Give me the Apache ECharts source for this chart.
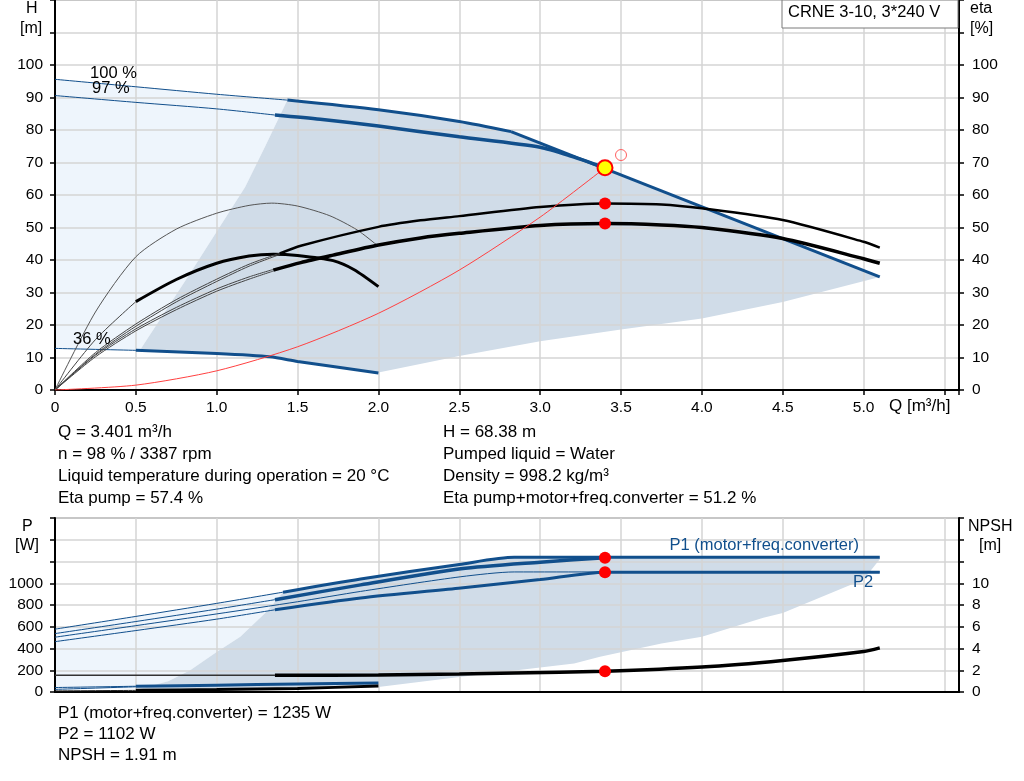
<!DOCTYPE html>
<html>
<head>
<meta charset="utf-8">
<script src="https://cdn.jsdelivr.net/npm/echarts@6/dist/echarts.min.js"></script>
<style>
html, body { margin: 0; padding: 0; background: #fff; }
#chart { width: 1024px; height: 781px; }
</style>
</head>
<body>
<div id="chart"></div>
<script>
// ---- tick labels ----
var qTickLabels = ['0', '0.5', '1.0', '1.5', '2.0', '2.5', '3.0', '3.5', '4.0', '4.5', '5.0'];
var hTickLabels = ['0', '10', '20', '30', '40', '50', '60', '70', '80', '90', '100'];
var pTickLabels = ['0', '200', '400', '600', '800', '1000'];
var npshTickLabels = ['0', '2', '4', '6', '8', '10'];

// ---- top chart: head curves [Q, H] ----
var h100Thin = [[0, 95.6], [0.5, 93.3], [1.0, 91.0], [1.437, 89.2]];
var h100Thick = [[1.437, 89.2], [2.0, 86.2], [2.5, 82.6], [2.82, 79.5]];
var hMaxLine = [[2.82, 79.5], [5.1, 34.8]];
var h97Thin = [[0, 90.6], [0.5, 88.5], [1.0, 86.5], [1.36, 84.6]];
var h97Thick = [[1.36, 84.6], [1.64, 83.3], [2.0, 81.2], [2.5, 77.9], [3.0, 74.7], [3.2, 71.8], [3.401, 68.38]];
var h36Thin = [[0, 12.8], [0.5, 12.2]];
var h36Thick = [[0.5, 12.2], [1.0, 11.2], [1.33, 10.2], [1.5, 8.8], [2.0, 5.2]];
var systemCurve = [[0, 0], [0.5, 1.5], [1.0, 5.9], [1.5, 13.3], [2.0, 23.6], [2.5, 36.9], [3.0, 53.2], [3.401, 68.38]];

// ---- top chart: efficiency curves [Q, eta] ----
var etaPumpThinA = [[0, 0], [0.25, 11.5], [0.5, 20.3], [0.75, 27.8], [1.0, 34.1], [1.2, 38.7], [1.39, 42.1]];
var etaPumpThinB = [[0, 0], [0.25, 11.0], [0.5, 19.6], [0.75, 27.1], [1.0, 33.4], [1.2, 38.1], [1.39, 41.7]];
var etaPumpThick = [[1.39, 42.0], [1.52, 44.4], [2.0, 50.2], [2.26, 52.2], [2.5, 53.5], [3.0, 56.3], [3.401, 57.4], [3.75, 57.1], [4.0, 55.9], [4.5, 52.3], [5.0, 45.6], [5.1, 43.8]];
var etaTotalThinA = [[0, 0], [0.25, 10.7], [0.5, 18.8], [0.75, 25.4], [1.0, 31.1], [1.2, 34.8], [1.35, 37.1]];
var etaTotalThinB = [[0, 0], [0.25, 10.2], [0.5, 18.2], [0.75, 24.7], [1.0, 30.4], [1.2, 34.1], [1.35, 36.6]];
var etaTotalThick = [[1.35, 36.9], [1.52, 39.2], [1.72, 41.5], [2.0, 44.6], [2.26, 46.8], [2.5, 48.2], [3.0, 50.6], [3.401, 51.2], [3.75, 50.8], [4.0, 50.0], [4.5, 46.6], [5.0, 40.4], [5.1, 39.0]];
var etaLowArc = [[0, 0], [0.25, 24], [0.5, 41], [0.75, 49.5], [1.0, 54.4], [1.2, 56.8], [1.34, 57.5], [1.5, 56.6], [1.7, 53.6], [1.87, 49.2], [1.99, 44.6]];
var etaMinThin = [[0, 0], [0.25, 15.5], [0.5, 27.2]];
var etaMinThick = [[0.5, 27.2], [0.75, 34], [1.0, 39], [1.2, 41.2], [1.35, 41.8], [1.5, 41.4], [1.72, 39.8], [1.85, 37], [2.0, 31.8]];

// ---- top chart: areas [Q, H] ----
var topLightArea = [[0, 95.6], [0.5, 93.3], [1.0, 91.0], [1.437, 89.2], [1.3, 75], [1.176, 62.5], [0.84, 36.2], [0.526, 12.3], [0.5, 12.2], [0, 12.8]];
var topDarkArea = [[0.526, 12.3], [0.84, 36.2], [1.176, 62.5], [1.3, 75], [1.437, 89.2], [2.0, 86.2], [2.5, 82.6], [2.82, 79.5], [5.1, 34.8],
    [4.5, 27.1], [4.0, 22.0], [3.5, 18.6], [3.0, 15.0], [2.5, 10.5], [2.0, 5.4], [1.5, 8.8], [1.33, 10.2], [1.0, 11.2], [0.526, 12.2]];

// ---- duty point ----
var dutyQ = 3.401;
var dutyH = 68.38;
var dutyEtaPump = 57.4;
var dutyEtaTotal = 51.2;
var dutyP1 = 1235;
var dutyP2 = 1102;
var dutyNpsh = 1.91;
var openPoint = [3.5, 72.3];

// ---- bottom chart: power curves [Q, P] ----
var p1MaxThin = [[0, 578], [0.5, 695], [1.0, 815], [1.41, 918]];
var p1MaxThick = [[1.41, 918], [1.89, 1040], [2.5, 1173], [2.84, 1238], [5.1, 1238]];
var p1DutyThin = [[0, 537], [0.5, 648], [1.0, 762], [1.36, 849]];
var p1DutyThick = [[1.36, 849], [1.89, 985], [2.51, 1133], [3.0, 1194], [3.401, 1235]];
var p2MaxThin = [[0, 504], [0.5, 610], [1.0, 718], [1.5, 830], [1.89, 925], [2.51, 1060], [2.84, 1104], [5.1, 1104]];
var p2DutyThin = [[0, 463], [0.5, 565], [1.0, 670], [1.36, 756]];
var p2DutyThick = [[1.36, 756], [1.89, 865], [2.51, 957], [3.0, 1034], [3.401, 1102], [5.1, 1102]];
var pMinThinA = [[0, 41], [0.5, 53]];
var pMinThinB = [[0, 24], [0.5, 48]];
var pMinThick = [[0.5, 53], [1.0, 63], [1.5, 73], [2.0, 83]];
var pMinBlackThin = [[0, 10], [0.5, 15]];
var pMinBlackThick = [[0.5, 15], [1.0, 22], [1.5, 33], [2.0, 55]];

// ---- bottom chart: NPSH [Q, m] ----
var npshThin = [[0, 1.53], [1.36, 1.53]];
var npshThick = [[1.36, 1.53], [2.0, 1.56], [2.5, 1.65], [2.84, 1.74], [3.401, 1.91], [4.0, 2.29], [4.5, 2.9], [5.0, 3.72], [5.1, 4.06]];

// ---- bottom chart: areas [Q, P] ----
var botLightArea = [[0, 578], [0.5, 695], [1.0, 815], [1.41, 918], [1.31, 741], [1.146, 509], [1.0, 368], [0.836, 201], [0.7, 100], [0.51, 22], [0.5, 30], [0, 30]];
var botDarkArea = [[0.51, 22], [0.7, 100], [0.836, 201], [1.0, 368], [1.146, 509], [1.31, 741], [1.41, 918], [1.89, 1040], [2.5, 1173], [2.84, 1238], [5.1, 1238],
    [5.1, 1220], [5.0, 1034], [4.5, 726], [4.38, 682], [4.0, 509], [3.75, 445], [3.37, 324], [3.21, 263], [3.0, 226], [2.5, 139], [2.0, 46], [1.5, 36], [1.0, 28], [0.51, 20]];

// ---- curve labels [Q, value, text] ----
var topCurveLabels = [[0.217, 97.5, '100 %'], [0.229, 92.9, '97 %'], [0.111, 15.7, '36 %']];
var botCurveLabels = [[3.8, 1349, 'P1 (motor+freq.converter)'], [4.935, 1006, 'P2']];

// ---- info texts ----
var infoLeft = ['Q = 3.401 m³/h', 'n = 98 % / 3387 rpm', 'Liquid temperature during operation = 20 °C', 'Eta pump = 57.4 %'];
var infoRight = ['H = 68.38 m', 'Pumped liquid = Water', 'Density = 998.2 kg/m³', 'Eta pump+motor+freq.converter = 51.2 %'];
var infoBottom = ['P1 (motor+freq.converter) = 1235 W', 'P2 = 1102 W', 'NPSH = 1.91 m'];
var modelName = 'CRNE 3-10, 3*240 V';

var FONT = '"Liberation Sans", Arial, sans-serif';
var BLUE = '#114f8c';
var GRIDLINE = '#d4d4d4';

function tickFormatter(labels, step) {
    return function (v) {
        var i = Math.round(v / step);
        if (Math.abs(i * step - v) > 1e-6) return '';
        return labels[i] || '';
    };
}

function lineSeries(data, xi, yi, color, width, z, smooth) {
    return {
        type: 'line', xAxisIndex: xi, yAxisIndex: yi, data: data,
        smooth: smooth === undefined ? 0.25 : smooth,
        showSymbol: false, symbol: 'none', silent: true, z: z || 3,
        lineStyle: {color: color, width: width}
    };
}

function areaSeries(points, xi, yi, color) {
    return {
        type: 'custom', xAxisIndex: xi, yAxisIndex: yi, silent: true, z: -1,
        data: [points[0]],
        renderItem: function (params, api) {
            var pts = points.map(function (p) { return api.coord(p); });
            return {type: 'polygon', shape: {points: pts}, style: {fill: color}};
        }
    };
}

function labelSeries(items, xi, yi, color) {
    return {
        type: 'custom', xAxisIndex: xi, yAxisIndex: yi, silent: true, z: 10,
        data: items.map(function (it) { return [it[0], it[1]]; }),
        renderItem: function (params, api) {
            var it = items[params.dataIndex];
            var p = api.coord([it[0], it[1]]);
            return {type: 'text', x: p[0], y: p[1],
                style: {text: it[2], fill: color, font: '16.5px ' + FONT, align: 'left', verticalAlign: 'middle'}};
        }
    };
}

function dotSeries(data, xi, yi, size, fill, border, bw) {
    return {
        type: 'scatter', xAxisIndex: xi, yAxisIndex: yi, data: data, silent: true, z: 8,
        symbol: 'circle', symbolSize: size,
        itemStyle: {color: fill, borderColor: border, borderWidth: bw, opacity: 1}
    };
}

function valueAxis(opt) {
    return {
        type: 'value', gridIndex: opt.grid, min: opt.min, max: opt.max, interval: opt.interval,
        position: opt.position,
        axisLine: {show: true, onZero: false, lineStyle: {color: '#000', width: 2}},
        axisTick: {show: opt.ticks !== false, length: 5, lineStyle: {color: '#000', width: 1.5}},
        axisLabel: {show: opt.labels !== false, margin: opt.margin || 12, fontSize: 15.5, color: '#000', fontFamily: FONT,
            formatter: opt.formatter, showMaxLabel: true, showMinLabel: true},
        splitLine: {show: !!opt.split, lineStyle: {color: GRIDLINE, width: 1.5}}
    };
}

function textItem(t, left, top, size) {
    return {type: 'text', left: left, top: top, style: {text: t, font: size + 'px ' + FONT, fill: '#000'}};
}

var chart = echarts.init(document.getElementById('chart'));

var graphics = [
    {type: 'rect', shape: {x: 782, y: 0, width: 176, height: 28}, style: {fill: '#fff', stroke: '#7a7a7a', lineWidth: 1}, z: 100},
    {type: 'text', left: 788, top: 4, style: {text: modelName, font: '16.5px ' + FONT, fill: '#000'}, z: 101},
    textItem('H', 26, 1, 16),
    textItem('[m]', 20, 21, 16),
    textItem('eta', 970, 1, 16),
    textItem('[%]', 970, 21, 16),
    textItem('Q [m³/h]', 889, 398, 17),
    textItem('P', 22, 519, 16),
    textItem('[W]', 15, 538, 16),
    textItem('NPSH', 968, 519, 16),
    textItem('[m]', 979, 538, 16)
];
infoLeft.forEach(function (t, i) {
    graphics.push(textItem(t, 58, 424 + i * 22, 17));
});
infoRight.forEach(function (t, i) {
    graphics.push(textItem(t, 443, 424 + i * 22, 17));
});
infoBottom.forEach(function (t, i) {
    graphics.push(textItem(t, 58, 705 + i * 21, 17));
});

var option = {
    animation: false,
    backgroundColor: '#fff',
    grid: [
        {left: 55, right: 65, top: 0, bottom: 391, show: true, borderColor: '#a0a0a0', borderWidth: 2, backgroundColor: 'transparent'},
        {left: 55, right: 65, top: 518, bottom: 89, show: true, borderColor: '#a0a0a0', borderWidth: 2, backgroundColor: 'transparent'}
    ],
    xAxis: [
        valueAxis({grid: 0, min: 0, max: 5.59, interval: 0.5, split: true, margin: 10, formatter: tickFormatter(qTickLabels, 0.5)}),
        valueAxis({grid: 1, min: 0, max: 5.59, interval: 0.5, split: true, labels: false, ticks: false})
    ],
    yAxis: [
        valueAxis({grid: 0, min: 0, max: 120, interval: 10, split: true, position: 'left', formatter: tickFormatter(hTickLabels, 10)}),
        valueAxis({grid: 0, min: 0, max: 120, interval: 10, position: 'right', margin: 13, formatter: tickFormatter(hTickLabels, 10)}),
        valueAxis({grid: 1, min: 0, max: 1600, interval: 200, split: true, position: 'left', formatter: tickFormatter(pTickLabels, 200)}),
        valueAxis({grid: 1, min: 0, max: 16, interval: 2, position: 'right', margin: 13, formatter: tickFormatter(npshTickLabels, 2)})
    ],
    graphic: graphics,
    series: [
        // areas
        areaSeries(topLightArea, 0, 0, '#eef5fc'),
        areaSeries(topDarkArea, 0, 0, '#d0dce8'),
        areaSeries(botLightArea, 1, 2, '#eef5fc'),
        areaSeries(botDarkArea, 1, 2, '#d0dce8'),

        // top: head curves
        lineSeries(h100Thin, 0, 0, BLUE, 1),
        lineSeries(h100Thick, 0, 0, BLUE, 3),
        lineSeries(hMaxLine, 0, 0, BLUE, 3, 3, false),
        lineSeries(h97Thin, 0, 0, BLUE, 1),
        lineSeries(h97Thick, 0, 0, BLUE, 3.5),
        lineSeries(h36Thin, 0, 0, BLUE, 1),
        lineSeries(h36Thick, 0, 0, BLUE, 3),
        lineSeries(systemCurve, 0, 0, '#ff4040', 1, 4),

        // top: efficiency curves
        lineSeries(etaLowArc, 0, 1, '#555', 1),
        lineSeries(etaMinThin, 0, 1, '#444', 1),
        lineSeries(etaMinThick, 0, 1, '#000', 3),
        lineSeries(etaPumpThinA, 0, 1, '#444', 1),
        lineSeries(etaPumpThinB, 0, 1, '#444', 1),
        lineSeries(etaPumpThick, 0, 1, '#000', 2.5),
        lineSeries(etaTotalThinA, 0, 1, '#444', 1),
        lineSeries(etaTotalThinB, 0, 1, '#444', 1),
        lineSeries(etaTotalThick, 0, 1, '#000', 3.5),

        // duty points (top)
        dotSeries([[dutyQ, dutyEtaPump], [dutyQ, dutyEtaTotal]], 0, 1, 12, '#ff0000', '#ff0000', 0),
        dotSeries([[dutyQ, dutyH]], 0, 0, 15, '#ffff00', '#ff0000', 2),
        dotSeries([openPoint], 0, 0, 11, 'rgba(255,255,255,0)', '#ff6060', 1),

        // bottom: power curves
        lineSeries(p1MaxThin, 1, 2, BLUE, 1),
        lineSeries(p1MaxThick, 1, 2, BLUE, 3),
        lineSeries(p1DutyThin, 1, 2, BLUE, 1),
        lineSeries(p1DutyThick, 1, 2, BLUE, 3.5),
        lineSeries(p2MaxThin, 1, 2, BLUE, 1),
        lineSeries(p2DutyThin, 1, 2, BLUE, 1),
        lineSeries(p2DutyThick, 1, 2, BLUE, 3),
        lineSeries(pMinThinA, 1, 2, BLUE, 1),
        lineSeries(pMinThinB, 1, 2, BLUE, 1),
        lineSeries(pMinThick, 1, 2, BLUE, 3),
        lineSeries(pMinBlackThin, 1, 2, '#222', 1),
        lineSeries(pMinBlackThick, 1, 2, '#000', 3),

        // bottom: NPSH
        lineSeries(npshThin, 1, 3, '#333', 1.5),
        lineSeries(npshThick, 1, 3, '#000', 3.5),

        // duty points (bottom)
        dotSeries([[dutyQ, dutyP1], [dutyQ, dutyP2]], 1, 2, 12, '#ff0000', '#ff0000', 0),
        dotSeries([[dutyQ, dutyNpsh]], 1, 3, 12, '#ff0000', '#ff0000', 0),

        // labels
        labelSeries(topCurveLabels, 0, 0, '#000'),
        labelSeries(botCurveLabels, 1, 2, BLUE)
    ]
};

chart.setOption(option);
</script>
</body>
</html>
